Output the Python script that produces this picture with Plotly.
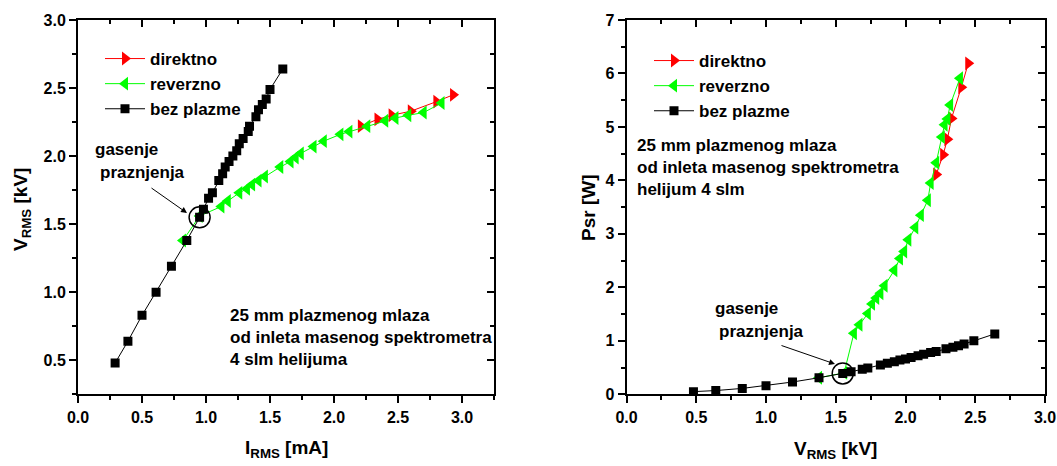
import plotly.graph_objects as go

# ---------------- data ----------------
# direktno (forward sweep)
dir_I = [2.21, 2.34, 2.45, 2.60, 2.80, 2.93]
dir_V = [2.22, 2.27, 2.30, 2.33, 2.40, 2.45]
dir_P = [4.11, 4.48, 4.77, 5.16, 5.74, 6.19]

# reverzno (reverse sweep)
rev_I = [0.82, 0.95, 1.12, 1.17, 1.26, 1.32, 1.36, 1.41, 1.46, 1.58, 1.66, 1.70,
         1.74, 1.84, 1.92, 2.05, 2.12, 2.26, 2.40, 2.48, 2.58, 2.70, 2.84]
rev_V = [1.38, 1.56, 1.63, 1.67, 1.73, 1.76, 1.79, 1.82, 1.85, 1.92, 1.96, 1.99,
         2.02, 2.07, 2.11, 2.16, 2.18, 2.22, 2.26, 2.28, 2.30, 2.32, 2.39]
rev_P = [0.31, 0.40, 1.14, 1.30, 1.51, 1.69, 1.80, 1.89, 2.03, 2.32, 2.54, 2.67,
         2.89, 3.12, 3.35, 3.63, 3.95, 4.33, 4.81, 5.04, 5.15, 5.41, 5.91]

# bez plazme (no plasma)
bez_I = [0.29, 0.39, 0.50, 0.61, 0.73, 0.85, 0.95, 0.98, 1.02, 1.05, 1.10, 1.13, 1.15,
         1.18, 1.21, 1.24, 1.26, 1.29, 1.33, 1.34, 1.39, 1.41, 1.44, 1.47, 1.50, 1.60]
bez_V = [0.48, 0.64, 0.83, 1.00, 1.19, 1.38, 1.55, 1.61, 1.69, 1.73, 1.82, 1.87, 1.92,
         1.96, 2.00, 2.04, 2.09, 2.13, 2.18, 2.22, 2.29, 2.34, 2.38, 2.42, 2.49, 2.64]
bez_P = [0.05, 0.07, 0.11, 0.16, 0.23, 0.31, 0.39, 0.42, 0.47, 0.49, 0.55, 0.58, 0.61,
         0.64, 0.66, 0.69, 0.72, 0.75, 0.78, 0.80, 0.85, 0.88, 0.91, 0.94, 1.00, 1.13]

quench_idx = 6  # point where discharge extinguishes ("gasenje praznjenja")

series_names = ["direktno", "reverzno", "bez plazme"]
info_left = ["25 mm plazmenog mlaza", "od inleta masenog spektrometra", "4 slm helijuma"]
info_right = ["25 mm plazmenog mlaza", "od inleta masenog spektrometra", "helijum 4 slm"]

# ---------------- layout helpers ----------------
W, H = 1057, 466
FONT = "Liberation Sans, Arial, sans-serif"


def px(x):
    return x / W


def py(y):
    return (H - y) / H


RED = "#ff0000"
GREEN = "#00ff00"
BLACK = "#000000"

fig = go.Figure()


def add_panel(xa, ya, xs, ys, legend, showleg):
    styles = [
        (RED, "triangle-right", 12),
        (GREEN, "triangle-left", 12),
        (BLACK, "square", 9),
    ]
    for name, (x, y), (col, sym, sz) in zip(series_names, zip(xs, ys), styles):
        fig.add_trace(go.Scatter(
            x=x, y=y, name=name, mode="lines+markers",
            line=dict(color=col, width=1),
            marker=dict(color=col, symbol=sym, size=sz, line=dict(width=0)),
            xaxis=xa, yaxis=ya, legend=legend, showlegend=showleg,
        ))


add_panel("x", "y", [dir_I, rev_I, bez_I], [dir_V, rev_V, bez_V], "legend", True)
add_panel("x2", "y2", [dir_V, rev_V, bez_V], [dir_P, rev_P, bez_P], "legend2", True)

# circles marking the extinction point
fig.add_trace(go.Scatter(x=[bez_I[quench_idx]], y=[bez_V[quench_idx]], mode="markers",
                         marker=dict(symbol="circle-open", size=21, color=BLACK, line=dict(width=1.5)),
                         xaxis="x", yaxis="y", showlegend=False))
fig.add_trace(go.Scatter(x=[bez_V[quench_idx]], y=[bez_P[quench_idx]], mode="markers",
                         marker=dict(symbol="circle-open", size=21, color=BLACK, line=dict(width=1.5)),
                         xaxis="x2", yaxis="y2", showlegend=False))

# dummy traces so the mirrored (inside-tick) axes get drawn
for xa, ya in [("x3", "y"), ("x", "y3"), ("x4", "y2"), ("x2", "y4")]:
    fig.add_trace(go.Scatter(x=[None], y=[None], xaxis=xa, yaxis=ya,
                             showlegend=False, hoverinfo="skip"))

dom_xl = [px(78), px(494)]
dom_xr = [px(626.5), px(1045)]
dom_y = [py(394.3), py(20)]

tickfont = dict(family=FONT, size=16, color=BLACK, weight="bold")


def main_axis(dom, rng, dtick, mdtick, fmt, anchor):
    return dict(domain=dom, range=rng, dtick=dtick, tick0=0, tickformat=fmt,
                showgrid=False, zeroline=False, showline=True, linecolor=BLACK,
                linewidth=2, mirror=True, ticks="outside", ticklen=7, tickwidth=1.5,
                tickcolor=BLACK, tickfont=tickfont, anchor=anchor, automargin=False,
                minor=dict(ticks="outside", ticklen=4, tickwidth=1.5, tickcolor=BLACK,
                           dtick=mdtick, tick0=0, showgrid=False))


def mirror_axis(over, rng, dtick, mdtick, side, anchor):
    return dict(overlaying=over, range=rng, dtick=dtick, tick0=0, side=side,
                showgrid=False, zeroline=False, showline=False, showticklabels=False,
                ticks="inside", ticklen=7, tickwidth=1.5, tickcolor=BLACK,
                anchor=anchor, automargin=False,
                minor=dict(ticks="inside", ticklen=4, tickwidth=1.5, tickcolor=BLACK,
                           dtick=mdtick, tick0=0, showgrid=False))


xl_rng, yl_rng = [0, 3.25], [0.25, 3.0]
xr_rng, yr_rng = [0, 3.0], [0, 7]

legend_common = dict(font=dict(family=FONT, size=17, color=BLACK, weight="bold"),
                     bgcolor="rgba(0,0,0,0)", borderwidth=0, xanchor="left",
                     yanchor="top", itemwidth=40, tracegroupgap=0)

annos = []


def text(x, y, s, size=17, xanchor="left", angle=0):
    annos.append(dict(x=px(x), y=py(y), xref="paper", yref="paper", text=s,
                      showarrow=False, xanchor=xanchor, yanchor="middle",
                      textangle=angle, align="left",
                      font=dict(family=FONT, size=size, color=BLACK, weight="bold")))


def arrow(x0, y0, x1, y1):
    annos.append(dict(x=px(x1), y=py(y1), xref="paper", yref="paper", text="",
                      showarrow=True, ax=x0 - x1, ay=y0 - y1, axref="pixel", ayref="pixel",
                      arrowhead=2, arrowsize=1.2, arrowwidth=1, arrowcolor=BLACK, standoff=0))


# axis titles
text(286, 449, "I<sub>RMS</sub> [mA]", size=19, xanchor="center")
text(22, 210, "V<sub>RMS</sub> [kV]", size=19, xanchor="center", angle=-90)
text(835.5, 450, "V<sub>RMS</sub> [kV]", size=19, xanchor="center")
text(588, 208, "Psr [W]", size=19, xanchor="center", angle=-90)

# info text blocks
text(228, 337, "<br>".join(info_left))
text(635, 167, "<br>".join(info_right))

# extinction labels + arrows
text(93, 150, "gasenje")
text(98, 172, "praznjenja")
arrow(150, 187, 187, 213)
text(713, 308, "gasenje")
text(717, 331.5, "praznjenja")
arrow(780, 345, 835, 364)

fig.update_layout(
    width=W, height=H, margin=dict(l=0, r=0, t=0, b=0),
    paper_bgcolor="white", plot_bgcolor="white",
    xaxis=main_axis(dom_xl, xl_rng, 0.5, 0.25, ".1f", "y"),
    yaxis=main_axis(dom_y, yl_rng, 0.5, 0.25, ".1f", "x"),
    xaxis2=main_axis(dom_xr, xr_rng, 0.5, 0.25, ".1f", "y2"),
    yaxis2=main_axis(dom_y, yr_rng, 1, 0.5, "d", "x2"),
    xaxis3=mirror_axis("x", xl_rng, 0.5, 0.25, "top", "y"),
    yaxis3=mirror_axis("y", yl_rng, 0.5, 0.25, "right", "x"),
    xaxis4=mirror_axis("x2", xr_rng, 0.5, 0.25, "top", "y2"),
    yaxis4=mirror_axis("y2", yr_rng, 1, 0.5, "right", "x2"),
    legend=dict(x=px(100), y=py(41), **legend_common),
    legend2=dict(x=px(649), y=py(43), **legend_common),
    annotations=annos,
    showlegend=True,
)

fig.write_html("out.html")
